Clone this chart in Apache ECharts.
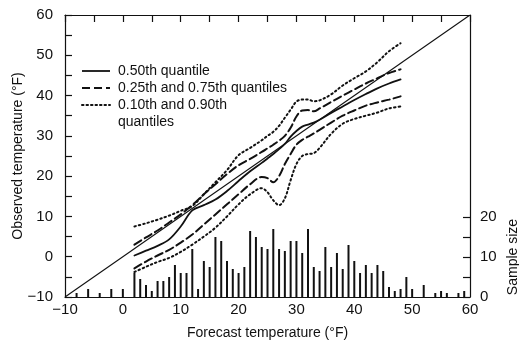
<!DOCTYPE html>
<html>
<head>
<meta charset="utf-8">
<script src="https://cdn.jsdelivr.net/npm/echarts@6/dist/echarts.min.js"></script>
<style>
    html, body { margin: 0; padding: 0; background: #fff; }
    #chart { width: 519px; height: 341px; }
</style>
</head>
<body>
<div id="chart"></div>
<script>
// forecast temperatures where the quantile curves are sampled
let forecastX = [2, 4, 6, 8, 10, 12, 14, 16, 18, 20, 22, 24, 25, 26, 27, 28, 29, 30, 31, 32, 33, 34, 36, 38, 40, 42, 44, 46, 48];

let q50 = [0.3, 1.5, 2.7, 4.3, 7.5, 11.5, 12.8, 14.2, 16.3, 18.8, 21.2, 23.3, 24.4, 25.5, 26.7, 28, 29.8, 31.2, 32.3, 32.8, 33.3, 34, 35.7, 37.3, 38.9, 40.4, 41.8, 43, 44];
let q25 = [-2.9, -1.2, 0.3, 1.7, 3.5, 5.5, 8, 10.5, 13, 15.5, 18, 19.8, 19.5, 18.5, 20, 23, 25.5, 27.8, 29, 29.8, 30.6, 31.5, 33.3, 35, 36.3, 37.5, 38.3, 39, 39.8];
let q75 = [3, 4.8, 6.5, 8.5, 10.5, 12.8, 15.5, 18, 20.5, 22.7, 24.3, 26, 26.9, 27.8, 28.8, 30, 32, 34.8, 36.3, 36.4, 36.1, 36.8, 38.4, 40, 41.5, 43, 44.3, 45.6, 46.5];
let q10 = [-3.8, -2.5, -1.3, -0.3, 1.2, 3, 5, 7.2, 10, 13, 15.5, 17, 16, 14, 12.8, 14.5, 19, 23, 25, 25.5, 25.7, 27, 30.5, 33, 34.2, 35, 35.8, 36.8, 37.3];
let q90 = [7.5, 8.3, 9.2, 10.2, 11.4, 12.6, 15.5, 18.5, 21.5, 25.2, 27, 28.9, 30, 31, 32.5, 34.5, 36.5, 38.5, 39, 39, 38.6, 38.8, 40.3, 42.5, 44.3, 46, 48.3, 51, 53];

// histogram of forecasts
let sampleX = [-8, -6, -4, -2, 0,
    2, 3, 4, 5, 6, 7, 8, 9, 10, 11, 12, 13, 14, 15, 16, 17, 18, 19, 20, 21,
    22, 23, 24, 25, 26, 27, 28, 29, 30, 31, 32, 33, 34, 35, 36, 37, 38, 39, 40,
    41, 42, 43, 44, 45, 46, 47, 48, 49, 50, 52, 54, 55, 56, 58, 59];
let sampleSize = [1, 2, 1, 2, 2,
    6, 4.5, 3, 1.5, 4, 4, 5, 8, 6, 6, 12, 2, 9, 7.5, 15, 14, 9, 7, 6, 7.5,
    16.5, 15, 12.5, 12, 17, 12, 11.5, 14, 14, 11, 17, 7.5, 6.5, 12.5, 7.5, 11, 7, 13, 9,
    6, 8, 6, 8, 6.5, 2.5, 1.5, 2, 5, 2, 3, 1, 1.5, 1, 1, 1.5];

let tempTicks = [-10, 60];
let sampleTicks = [0, 20];

let ink = '#111';
let font = 'Liberation Sans, Arial, sans-serif';

let pairs = (xs, ys) => xs.map((x, i) => [x, ys[i]]);
let minus = v => v < 0 ? '\u2212' + Math.abs(v) : String(v);

let quantileLine = (data, type, width) => ({
    type: 'line',
    xAxisIndex: 0,
    yAxisIndex: 0,
    data: data,
    smooth: 0.35,
    symbol: 'none',
    silent: true,
    lineStyle: { color: ink, width: width, type: type, cap: 'round' }
});

let chart = echarts.init(document.getElementById('chart'));

chart.setOption({
    animation: false,
    backgroundColor: '#fff',
    textStyle: { fontFamily: font, color: ink },
    grid: [
        { left: 65, right: 49, top: 15, bottom: 44, outerBoundsMode: 'none', containLabel: false },
        { left: 65, right: 49, top: 217, bottom: 44, outerBoundsMode: 'none', containLabel: false }
    ],
    xAxis: [
        {
            gridIndex: 0, type: 'value', position: 'bottom',
            min: tempTicks[0], max: tempTicks[1], interval: 10,
            axisLine: { onZero: false, lineStyle: { color: ink, width: 1.2 } },
            axisTick: { show: false },
            splitLine: { show: false },
            axisLabel: { formatter: minus, fontSize: 15, color: ink, margin: 5, fontFamily: font },
            name: 'Forecast temperature (\u00b0F)',
            nameLocation: 'middle', nameGap: 29,
            nameTextStyle: { fontSize: 14, color: ink, fontFamily: font }
        },
        {
            gridIndex: 0, type: 'value', position: 'top',
            min: tempTicks[0], max: tempTicks[1], interval: 5,
            axisLine: { onZero: false, lineStyle: { color: ink, width: 1.2 } },
            axisTick: { inside: true, length: 7, lineStyle: { color: ink, width: 1.2 } },
            axisLabel: { show: false },
            splitLine: { show: false }
        },
        {
            gridIndex: 1, type: 'value',
            min: tempTicks[0], max: tempTicks[1], show: false
        }
    ],
    yAxis: [
        {
            gridIndex: 0, type: 'value', position: 'left',
            min: tempTicks[0], max: tempTicks[1], interval: 5,
            axisLine: { show: true, onZero: false, lineStyle: { color: ink, width: 1.2 } },
            axisTick: { inside: true, length: 7, lineStyle: { color: ink, width: 1.2 } },
            splitLine: { show: false },
            axisLabel: {
                formatter: v => v % 10 === 0 ? minus(v) : '',
                fontSize: 15, color: ink, margin: 12, fontFamily: font
            },
            name: 'Observed temperature (\u00b0F)',
            nameLocation: 'middle', nameGap: 40, nameMoveOverlap: false,
            nameTextStyle: { fontSize: 14, color: ink, fontFamily: font }
        },
        {
            gridIndex: 0, type: 'value', position: 'right',
            min: tempTicks[0], max: tempTicks[1],
            axisLine: { show: true, onZero: false, lineStyle: { color: ink, width: 1.2 } },
            axisTick: { show: false },
            axisLabel: { show: false },
            splitLine: { show: false }
        },
        {
            gridIndex: 1, type: 'value', position: 'right',
            min: sampleTicks[0], max: sampleTicks[1], interval: 5,
            axisLine: { show: false, onZero: false },
            axisTick: { inside: true, length: 7, lineStyle: { color: ink, width: 1.2 } },
            splitLine: { show: false },
            axisLabel: {
                formatter: v => v % 10 === 0 ? String(v) : '',
                fontSize: 15, color: ink, margin: 10, fontFamily: font
            },
            name: 'Sample size',
            nameLocation: 'middle', nameGap: 36, nameRotate: 90, nameMoveOverlap: false,
            nameTextStyle: { fontSize: 14, color: ink, fontFamily: font }
        }
    ],
    graphic: [
        { type: 'line', shape: { x1: 82, y1: 71, x2: 110, y2: 71 }, style: { stroke: ink, lineWidth: 1.8 } },
        { type: 'line', shape: { x1: 82, y1: 88, x2: 110, y2: 88 }, style: { stroke: ink, lineWidth: 2, lineDash: [8, 4] } },
        { type: 'line', shape: { x1: 82, y1: 105, x2: 110, y2: 105 }, style: { stroke: ink, lineWidth: 2, lineDash: [1.5, 3], lineCap: 'round' } },
        { type: 'text', x: 118, y: 71, style: { text: '0.50th quantile', font: '14px ' + font, fill: ink, verticalAlign: 'middle' } },
        { type: 'text', x: 118, y: 88, style: { text: '0.25th and 0.75th quantiles', font: '14px ' + font, fill: ink, verticalAlign: 'middle' } },
        { type: 'text', x: 118, y: 105, style: { text: '0.10th and 0.90th', font: '14px ' + font, fill: ink, verticalAlign: 'middle' } },
        { type: 'text', x: 118, y: 122, style: { text: 'quantiles', font: '14px ' + font, fill: ink, verticalAlign: 'middle' } }
    ],
    series: [
        {
            type: 'line',
            xAxisIndex: 0, yAxisIndex: 0,
            data: [[tempTicks[0], tempTicks[0]], [tempTicks[1], tempTicks[1]]],
            symbol: 'none', silent: true,
            lineStyle: { color: ink, width: 1.1 }
        },
        quantileLine(pairs(forecastX, q50), 'solid', 1.8),
        quantileLine(pairs(forecastX, q25), [8, 4], 2),
        quantileLine(pairs(forecastX, q75), [8, 4], 2),
        quantileLine(pairs(forecastX, q10), [1.5, 3], 2),
        quantileLine(pairs(forecastX, q90), [1.5, 3], 2),
        {
            type: 'bar',
            xAxisIndex: 2, yAxisIndex: 2,
            data: pairs(sampleX, sampleSize),
            barWidth: 2,
            silent: true,
            itemStyle: { color: ink }
        }
    ]
});
</script>
</body>
</html>
